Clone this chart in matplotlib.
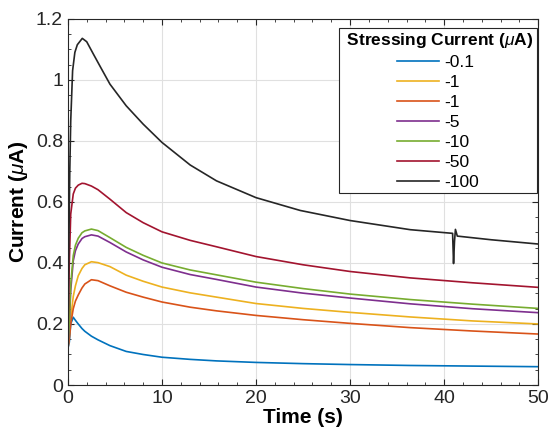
import matplotlib
matplotlib.use("Agg")
import matplotlib.pyplot as plt
from matplotlib.ticker import MultipleLocator

plt.rcParams['font.family'] = ['Liberation Sans', 'DejaVu Sans']
plt.rcParams['mathtext.fontset'] = 'custom'
plt.rcParams['mathtext.it'] = 'Liberation Sans:italic'

labels = ['-0.1', '-1', '-1', '-5', '-10', '-50', '-100']
colors = ['#0072BD', '#EDB120', '#D95319', '#7E2F8E', '#77AC30', '#A2142F', '#262626']

t_common = [0, 0.15, 0.3, 0.57, 0.8, 1.1, 1.5, 1.8, 2.5, 3.2, 4.47, 6.2, 8, 10, 13, 15.8, 20, 25, 30, 36.4, 43, 50]

i_blue   = [0.12, 0.14, 0.20, 0.222, 0.212, 0.200, 0.185, 0.176, 0.160, 0.148, 0.129, 0.110, 0.100, 0.091, 0.084, 0.079, 0.074, 0.070, 0.067, 0.064, 0.062, 0.060]
i_yellow = [0.12, 0.16, 0.22, 0.29, 0.325, 0.358, 0.382, 0.394, 0.404, 0.401, 0.388, 0.360, 0.340, 0.321, 0.302, 0.288, 0.267, 0.251, 0.238, 0.223, 0.210, 0.200]
i_orange = [0.12, 0.15, 0.20, 0.25, 0.275, 0.295, 0.318, 0.331, 0.345, 0.342, 0.325, 0.304, 0.288, 0.272, 0.255, 0.243, 0.228, 0.214, 0.202, 0.188, 0.177, 0.167]
i_purple = [0.12, 0.20, 0.31, 0.407, 0.440, 0.462, 0.480, 0.486, 0.492, 0.488, 0.467, 0.436, 0.410, 0.386, 0.362, 0.346, 0.321, 0.301, 0.285, 0.266, 0.250, 0.237]
i_green  = [0.12, 0.21, 0.33, 0.424, 0.458, 0.481, 0.499, 0.505, 0.511, 0.506, 0.483, 0.451, 0.425, 0.400, 0.377, 0.361, 0.337, 0.316, 0.298, 0.280, 0.265, 0.251]
i_red    = [0.14, 0.40, 0.56, 0.626, 0.645, 0.655, 0.661, 0.660, 0.652, 0.640, 0.609, 0.565, 0.532, 0.502, 0.474, 0.453, 0.421, 0.394, 0.372, 0.351, 0.335, 0.320]

t_black = [0, 0.1, 0.2, 0.3, 0.5, 0.74, 1.0, 1.53, 2.0, 2.7, 3.5, 4.47, 6.2, 8.0, 10, 13, 15.8, 20, 24.7, 30, 36.4, 40.9, 41.0, 41.1, 41.2, 41.4, 45, 50]
i_black = [0.14, 0.45, 0.70, 0.865, 1.03, 1.09, 1.115, 1.136, 1.125, 1.085, 1.04, 0.986, 0.915, 0.855, 0.795, 0.721, 0.669, 0.614, 0.572, 0.539, 0.509, 0.497, 0.398, 0.470, 0.510, 0.488, 0.476, 0.462]

series = [(t_common, i_blue), (t_common, i_yellow), (t_common, i_orange),
          (t_common, i_purple), (t_common, i_green), (t_common, i_red),
          (t_black, i_black)]

fig = plt.figure(figsize=(5.52, 4.38), dpi=100)
ax = fig.add_axes([0.123, 0.121, 0.852, 0.836])

for (t, y), c, lab in zip(series, colors, labels):
    ax.plot(t, y, color=c, lw=1.2, label=lab)

ax.set_xlim(0, 50)
ax.set_ylim(0, 1.2)
ax.xaxis.set_major_locator(MultipleLocator(10))
ax.xaxis.set_minor_locator(MultipleLocator(2))
ax.yaxis.set_minor_locator(MultipleLocator(0.05))
ax.set_yticks([0, 0.2, 0.4, 0.6, 0.8, 1.0, 1.2])
ax.set_yticklabels(['0', '0.2', '0.4', '0.6', '0.8', '1', '1.2'])
ax.tick_params(which='both', direction='in', top=True, right=True, colors='#262626', labelsize=14)
ax.tick_params(which='major', length=4)
ax.tick_params(which='minor', length=2.5)
ax.grid(True, which='major', color='#e0e0e0', lw=0.8)
ax.set_axisbelow(True)
for s in ax.spines.values():
    s.set_color('#262626')
    s.set_linewidth(0.8)

ax.set_xlabel('Time (s)', fontsize=15, fontweight='bold', labelpad=1)
ax.set_ylabel(r'Current ($\mu$A)', fontsize=15, fontweight='bold', labelpad=4)

leg = ax.legend(title=r' Stressing Current ($\mu$A) ', loc='upper right', fontsize=12.5,
                title_fontproperties={'weight': 'bold', 'size': 12.5},
                handlelength=2.4, handletextpad=0.3, labelspacing=0.28,
                fancybox=False, edgecolor='#262626', framealpha=1,
                borderpad=0.18, borderaxespad=0, alignment='center',
                bbox_to_anchor=(0.998, 0.975))
leg.get_frame().set_linewidth(0.8)

fig.savefig('out.png', dpi=100)
